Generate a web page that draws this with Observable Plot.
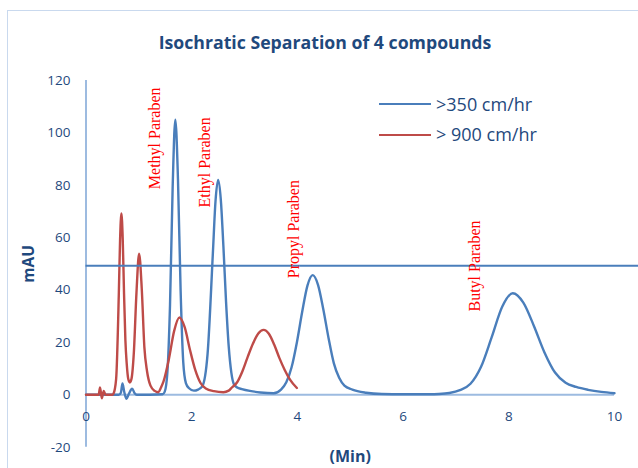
<!DOCTYPE html>
<html>
<head>
<meta charset="utf-8">
<script src="https://cdn.jsdelivr.net/npm/d3@7"></script>
<script src="https://cdn.jsdelivr.net/npm/@observablehq/plot@0.6"></script>
<style>
  html, body { margin: 0; padding: 0; background: #ffffff; }
  #wrap { position: relative; width: 638px; height: 468px; overflow: hidden; background: #ffffff; }
  #wrap svg { position: absolute; left: 0; top: 0; }
  .border { position: absolute; left: 7px; top: 10px; width: 700px; height: 520px; border: 1px solid #c9d9ee; }
  .title { position: absolute; left: 0; top: 30px; width: 650px; text-align: center; font: bold 17.7px "Open Sans", sans-serif; line-height: 24px; color: #1F497D; }
  .lg-line { position: absolute; left: 379px; width: 52px; height: 2.25px; }
  .lg-text { position: absolute; left: 436px; font: 18px "Open Sans", sans-serif; line-height: 24px; color: #1F497D; white-space: nowrap; }
</style>
</head>
<body>
<div id="wrap">
  <div class="border"></div>
</div>
<script>
// ---- data ----
const seriesNames = [">350 cm/hr", "> 900 cm/hr"];
const chartTitle = "Isochratic Separation of 4 compounds";
const yLabel = "mAU";
const xLabel = "(Min)";
const xTicks = [0, 2, 4, 6, 8, 10];
const yTicks = [-20, 0, 20, 40, 60, 80, 100, 120];

// >350 cm/hr (blue)
const timeBlue = [0, 0.62, 0.66, 0.69, 0.725, 0.766, 0.81, 0.873, 0.92, 0.96, 1.45, 1.49, 1.54, 1.59, 1.64, 1.69, 1.74, 1.79, 1.84, 1.89, 1.95, 2.04, 2.12, 2.2, 2.3, 2.4, 2.45, 2.5, 2.55, 2.6, 2.65, 2.7, 2.75, 2.8, 2.86, 2.95, 3.1, 3.3, 3.55, 3.69, 3.79, 3.89, 3.99, 4.09, 4.19, 4.29, 4.39, 4.49, 4.59, 4.69, 4.79, 4.89, 5.04, 5.3, 5.6, 6.0, 6.5, 6.675, 6.875, 7.075, 7.275, 7.475, 7.675, 7.875, 8.075, 8.275, 8.475, 8.675, 8.875, 9.075, 9.275, 9.5, 9.75, 10];
const mauBlue  = [0, 0, 0.8, 4.3, 1, -1.5, 0.3, 2.3, 0.6, 0, 0.2, 1.2, 8.6, 34.5, 79.5, 105, 82.5, 40, 12.5, 4.5, 2.5, 1.6, 2.0, 3.2, 15.5, 53.8, 73.8, 82, 74.7, 56.6, 35.5, 18.6, 8.5, 4, 2.8, 2.2, 1.5, 0.9, 0.6, 2.0, 4.8, 10.5, 20, 31.6, 41.7, 45.7, 42, 32.7, 21.6, 12, 6.5, 3.5, 2, 0.8, 0.3, 0.2, 0.2, 0.3, 0.7, 1.8, 4.2, 10.7, 21.9, 33.6, 38.8, 35.2, 26.3, 16.2, 8.5, 4.6, 3.0, 1.9, 1.1, 0.6];

// > 900 cm/hr (red)
const timeRed = [0, 0.24, 0.265, 0.3, 0.335, 0.37, 0.5, 0.52, 0.57, 0.62, 0.645, 0.67, 0.695, 0.72, 0.745, 0.77, 0.8, 0.83, 0.86, 0.905, 0.955, 1.005, 1.055, 1.105, 1.155, 1.22, 1.3, 1.37, 1.417, 1.467, 1.567, 1.667, 1.767, 1.867, 1.967, 2.067, 2.167, 2.267, 2.42, 2.6, 2.7, 2.76, 2.86, 2.96, 3.06, 3.16, 3.26, 3.36, 3.46, 3.56, 3.66, 3.76, 3.86, 3.99];
const mauRed  = [0, 0, 2.8, -1.3, 1.5, 0, 0, 0.4, 6, 37.7, 59.4, 69.2, 59.4, 38.5, 21, 12, 6, 4.7, 6, 16, 39, 53.9, 40.5, 18, 9, 3.5, 1.5, 1.0, 2.7, 5.1, 13.5, 24.3, 29.5, 25.8, 17.2, 9.5, 4.5, 2.4, 1.4, 1.0, 1.6, 2.8, 4.8, 9, 14.5, 19.6, 23.4, 24.8, 23.3, 19.2, 14, 9.5, 5.8, 2.6];

// horizontal reference line
const thresholdMAU = [49.3];

// peak annotations
const peakLabels = ["Methyl Paraben", "Ethyl Paraben", "Propyl Paraben", "Butyl Paraben"];
const peakLabelX = [1.31, 2.25, 3.94, 7.36];
const peakLabelY = [78.5, 71.5, 44.5, 31.8];

// ---- build ----
const blue = "#4a7ebb";
const red = "#be4b48";
const axisColor = "#9dbbe0";
const textColor = "#1F497D";

const blueData = timeBlue.map((t, i) => ({t, v: mauBlue[i]}));
const redData = timeRed.map((t, i) => ({t, v: mauRed[i]}));
const annotations = peakLabels.map((label, i) => ({label, x: peakLabelX[i], y: peakLabelY[i]}));

const chart = Plot.plot({
  width: 638,
  height: 468,
  marginTop: 80,
  marginBottom: 21.3,
  marginLeft: 85.5,
  marginRight: 24,
  style: {fontFamily: "Open Sans", fontSize: "13px", color: textColor, background: "transparent", overflow: "visible"},
  x: {domain: [0, 10]},
  y: {domain: [-20, 120]},
  marks: [
    Plot.ruleX([0], {stroke: axisColor, strokeWidth: 2}),
    Plot.ruleY([0], {stroke: axisColor, strokeWidth: 2}),
    Plot.axisY({ticks: yTicks, tickSize: 0, tickPadding: 15.5, label: null, fontSize: 13.5, tickFormat: d => String(d)}),
    Plot.axisX({ticks: xTicks, tickSize: 0, tickPadding: -36, label: null, fontSize: 13.5, tickFormat: d => String(d)}),
    Plot.text([yLabel], {text: d => d, frameAnchor: "left", textAnchor: "middle", lineAnchor: "middle", rotate: -90, dx: -56.5, fontWeight: "bold", fontSize: 15.5, fill: textColor}),
    Plot.text([xLabel], {text: d => d, frameAnchor: "bottom", textAnchor: "middle", lineAnchor: "middle", dy: 10, fontWeight: "bold", fontSize: 16, fill: textColor}),
    Plot.line(blueData, {x: "t", y: "v", stroke: blue, strokeWidth: 2.4, curve: "monotone-x"}),
    Plot.line(redData, {x: "t", y: "v", stroke: red, strokeWidth: 2.4, curve: "monotone-x"}),
    Plot.ruleY(thresholdMAU, {stroke: blue, strokeWidth: 2, insetRight: -24}),
    Plot.text(annotations, {x: "x", y: "y", text: "label", rotate: -90, textAnchor: "start", fill: "#ff0000", fontFamily: "Liberation Serif", fontSize: 16})
  ]
});

const wrap = document.getElementById("wrap");
wrap.appendChild(chart);

const title = document.createElement("div");
title.className = "title";
title.textContent = chartTitle;
wrap.appendChild(title);

const legendColors = [blue, red];
const legendY = [104.2, 135];
seriesNames.forEach((name, i) => {
  const line = document.createElement("div");
  line.className = "lg-line";
  line.style.top = (legendY[i] - 1.1) + "px";
  line.style.background = legendColors[i];
  wrap.appendChild(line);
  const txt = document.createElement("div");
  txt.className = "lg-text";
  txt.style.top = (legendY[i] - 12.6) + "px";
  txt.textContent = name;
  wrap.appendChild(txt);
});
</script>
</body>
</html>
